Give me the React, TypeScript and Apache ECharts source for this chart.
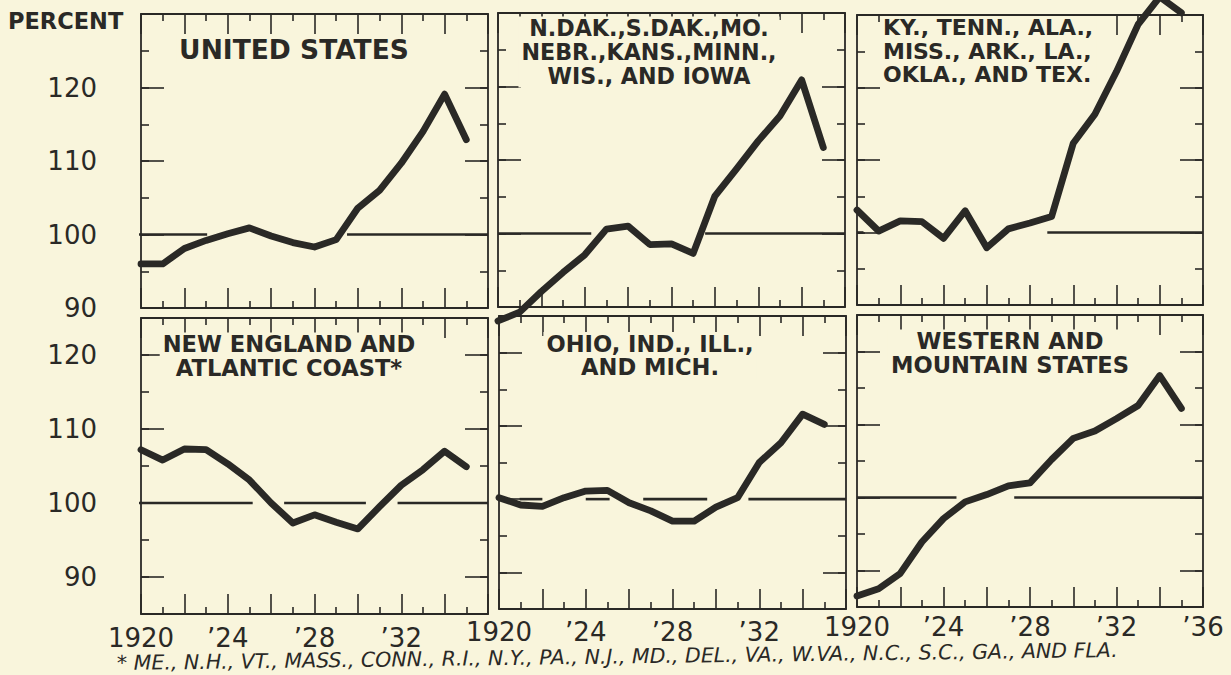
import React, { useEffect, useRef } from "react";
import * as echarts from "echarts";

// ---------- data ----------
const YEARS = [1920, 1921, 1922, 1923, 1924, 1925, 1926, 1927, 1928, 1929, 1930, 1931, 1932, 1933, 1934, 1935];

const UNITED_STATES = [96, 96, 98.1, 99.2, 100.1, 100.9, 99.8, 98.9, 98.3, 99.3, 103.6, 106, 109.7, 114, 119.1, 112.9];
const WEST_NORTH_CENTRAL = [88.1, 89.3, 92.1, 94.7, 97.1, 100.6, 101, 98.5, 98.6, 97.3, 105.1, 108.8, 112.6, 116, 120.9, 111.7];
const SOUTH_CENTRAL = [103.1, 100.2, 101.6, 101.5, 99.2, 103, 97.9, 100.5, 101.3, 102.2, 112.3, 116.3, 122.2, 128.7, 132.5, 130.3];
const NEW_ENGLAND_ATLANTIC = [107.2, 105.8, 107.3, 107.2, 105.3, 103.1, 100, 97.3, 98.4, 97.4, 96.5, 99.5, 102.4, 104.5, 107, 104.9];
const EAST_NORTH_CENTRAL = [100.2, 99.2, 99, 100.2, 101.1, 101.2, 99.5, 98.4, 97, 97, 98.9, 100.2, 105, 107.7, 111.6, 110.2];
const WESTERN_MOUNTAIN = [86.5, 87.5, 89.6, 93.9, 97.1, 99.4, 100.4, 101.6, 102, 105.2, 108.1, 109.1, 110.8, 112.6, 116.7, 112.2];

// visible pieces of the 100-percent reference line (years from–to)
const REF_US = [[1919.55, 1923.05], [1929.5, 1936]];
const REF_WNC = [[1920, 1924.3], [1929.55, 1936]];
const REF_SC = [[1920, 1920.3], [1928.8, 1936]];
const REF_NEA = [[1919.55, 1925.15], [1926.6, 1930.37], [1931.83, 1936]];
const REF_ENC = [[1920.95, 1922.0], [1924.0, 1925.1], [1926.65, 1929.6], [1931.5, 1936]];
const REF_WM = [[1920, 1924.6], [1927.27, 1936]];
const REF_LEVEL = 100;

const TITLE_US = ["UNITED STATES"];
const TITLE_WNC = ["N.DAK.,S.DAK.,MO.", "NEBR.,KANS.,MINN.,", "WIS., AND IOWA"];
const TITLE_SC = ["KY., TENN., ALA.,", "MISS., ARK., LA.,", "OKLA., AND TEX."];
const TITLE_NEA = ["NEW ENGLAND AND", "ATLANTIC COAST*"];
const TITLE_ENC = ["OHIO, IND., ILL.,", "AND MICH."];
const TITLE_WM = ["WESTERN AND", "MOUNTAIN STATES"];

const X_TICK_LABELS = ["1920", "\u201924", "\u201928", "\u201932", "\u201936"];
const Y_TICK_LABELS = [90, 100, 110, 120];
const Y_UNIT = "PERCENT";
const FOOTNOTE = "* ME., N.H., VT., MASS., CONN., R.I., N.Y., PA., N.J., MD., DEL., VA., W.VA., N.C., S.C., GA., AND FLA.";

// ---------- layout / style ----------
const BG = "#f9f5dc";
const INK = "#2a2926";
const FONT = "'DejaVu Sans', sans-serif";

const PANELS = [
  { values: UNITED_STATES, ref: REF_US, title: TITLE_US, row: 0, col: 0 },
  { values: WEST_NORTH_CENTRAL, ref: REF_WNC, title: TITLE_WNC, row: 0, col: 1 },
  { values: SOUTH_CENTRAL, ref: REF_SC, title: TITLE_SC, row: 0, col: 2 },
  { values: NEW_ENGLAND_ATLANTIC, ref: REF_NEA, title: TITLE_NEA, row: 1, col: 0 },
  { values: EAST_NORTH_CENTRAL, ref: REF_ENC, title: TITLE_ENC, row: 1, col: 1 },
  { values: WESTERN_MOUNTAIN, ref: REF_WM, title: TITLE_WM, row: 1, col: 2 },
];

const BOXES = [
  { left: 141, top: 14, width: 347, height: 294 },
  { left: 498, top: 13, width: 347, height: 294 },
  { left: 857, top: 15, width: 346, height: 290 },
  { left: 141, top: 318, width: 347, height: 296 },
  { left: 499, top: 316, width: 347, height: 293 },
  { left: 857, top: 315, width: 346, height: 292 },
];

const X_LABEL_MARGIN = [11, 10, 7];

const TITLE_LAYOUT = [
  { x: 294, y: 49, align: "center", size: 26.5, lh: 27.5 },
  { x: 649, y: 52, align: "center", size: 22.2, lh: 23.6 },
  { x: 880, y: 51, align: "left", size: 22, lh: 23.4 },
  { x: 289, y: 356, align: "center", size: 22.6, lh: 23.5 },
  { x: 650, y: 355.5, align: "center", size: 22.6, lh: 23.5 },
  { x: 1010, y: 353, align: "center", size: 22.6, lh: 23.5 },
];

function xLabel(v: number, col: number): string {
  if ((v - 1920) % 4 !== 0) return "";
  if (v === 1936 && col < 2) return "";
  return X_TICK_LABELS[(v - 1920) / 4] || "";
}

function buildOption() {
  const grid: any[] = [];
  const xAxis: any[] = [];
  const yAxis: any[] = [];
  const series: any[] = [];
  const graphic: any[] = [];
  const line = { color: INK, width: 1.8 };
  const tick = { color: INK, width: 1.6 };

  PANELS.forEach((p, i) => {
    const b = BOXES[i];
    grid.push({ left: b.left, top: b.top, width: b.width, height: b.height, containLabel: false });
    const bottomRow = p.row === 1;
    const yMin = bottomRow ? 85 : 90;
    const yMax = yMin + 40;

    const xBase = {
      gridIndex: i,
      type: "value",
      min: 1920,
      max: 1936,
      interval: 2,
      axisLine: { show: true, onZero: false, lineStyle: line },
      axisTick: { show: true, inside: true, length: 20, lineStyle: tick },
      minorTick: { show: true, splitNumber: 2, length: 7, lineStyle: tick },
      splitLine: { show: false },
      minorSplitLine: { show: false },
    };
    xAxis.push({
      ...xBase,
      position: "bottom",
      axisLabel: {
        show: bottomRow,
        margin: X_LABEL_MARGIN[p.col],
        color: INK,
        fontFamily: FONT,
        fontSize: 26,
        showMinLabel: true,
        showMaxLabel: true,
        formatter: (v: number) => xLabel(v, p.col),
      },
    });
    xAxis.push({ ...xBase, position: "top", axisLabel: { show: false } });

    const longY: any = bottomRow
      ? { min: yMin, max: yMax, splitNumber: 4 }
      : { min: yMin, max: yMax, interval: 10 };
    const yCommon = { gridIndex: i, type: "value", splitLine: { show: false } };
    // left long ticks + labels
    yAxis.push({
      ...yCommon,
      ...longY,
      position: "left",
      axisLine: { show: true, onZero: false, lineStyle: line },
      axisTick: { show: true, inside: true, length: 23, lineStyle: tick },
      axisLabel: {
        show: p.col === 0,
        margin: 44,
        color: INK,
        fontFamily: FONT,
        fontSize: 26,
        showMinLabel: true,
        showMaxLabel: true,
        formatter: (v: number) => (Y_TICK_LABELS.indexOf(v) >= 0 ? String(v) : ""),
      },
    });
    // left short ticks
    yAxis.push({
      ...yCommon,
      min: yMin,
      max: yMax,
      interval: 5,
      position: "left",
      axisLine: { show: false },
      axisTick: { show: true, inside: true, length: 8, lineStyle: tick },
      axisLabel: { show: false },
    });
    // right long ticks
    yAxis.push({
      ...yCommon,
      ...longY,
      position: "right",
      axisLine: { show: true, onZero: false, lineStyle: line },
      axisTick: { show: true, inside: true, length: 23, lineStyle: tick },
      axisLabel: { show: false },
    });
    // right short ticks
    yAxis.push({
      ...yCommon,
      min: yMin,
      max: yMax,
      interval: 5,
      position: "right",
      axisLine: { show: false },
      axisTick: { show: true, inside: true, length: 8, lineStyle: tick },
      axisLabel: { show: false },
    });

    p.ref.forEach((seg) => {
      series.push({
        type: "line",
        xAxisIndex: 2 * i,
        yAxisIndex: 4 * i,
        data: [
          [seg[0], REF_LEVEL],
          [seg[1], REF_LEVEL],
        ],
        showSymbol: false,
        symbol: "none",
        clip: false,
        silent: true,
        z: 3,
        lineStyle: { color: INK, width: 2.6, cap: "butt" },
      });
    });

    series.push({
      type: "line",
      name: p.title.join(" "),
      xAxisIndex: 2 * i,
      yAxisIndex: 4 * i,
      data: YEARS.map((y, k) => [y, p.values[k]]),
      showSymbol: false,
      symbol: "none",
      clip: false,
      z: 5,
      lineStyle: { color: INK, width: 6.8, join: "round", cap: "round" },
    });

    const t = TITLE_LAYOUT[i];
    graphic.push({
      type: "text",
      x: t.x,
      y: t.y,
      z: 100,
      style: {
        text: p.title.join("\n"),
        fill: INK,
        font: `bold ${t.size}px ${FONT}`,
        lineHeight: t.lh,
        textAlign: t.align,
        textVerticalAlign: "middle",
        backgroundColor: BG,
        padding: [0, 3],
      },
    });
  });

  graphic.push({
    type: "text",
    x: 8,
    y: 21,
    z: 100,
    style: {
      text: Y_UNIT,
      fill: INK,
      font: `bold 22.5px ${FONT}`,
      textAlign: "left",
      textVerticalAlign: "middle",
    },
  });
  graphic.push({
    type: "text",
    x: 117,
    y: 663,
    z: 100,
    rotation: 0.013,
    style: {
      text: FOOTNOTE,
      fill: INK,
      font: `italic 20.5px ${FONT}`,
      textAlign: "left",
      textVerticalAlign: "middle",
    },
  });

  return {
    animation: false,
    backgroundColor: BG,
    grid,
    xAxis,
    yAxis,
    series,
    graphic,
  };
}

export default function App() {
  const ref = useRef<HTMLDivElement>(null);
  useEffect(() => {
    if (!ref.current) return;
    const chart = echarts.init(ref.current, undefined, { renderer: "svg" });
    chart.setOption(buildOption() as any);
    return () => chart.dispose();
  }, []);
  return (
    <div
      ref={ref}
      style={{ position: "absolute", left: 0, top: 0, width: 1231, height: 675, background: BG }}
    />
  );
}
